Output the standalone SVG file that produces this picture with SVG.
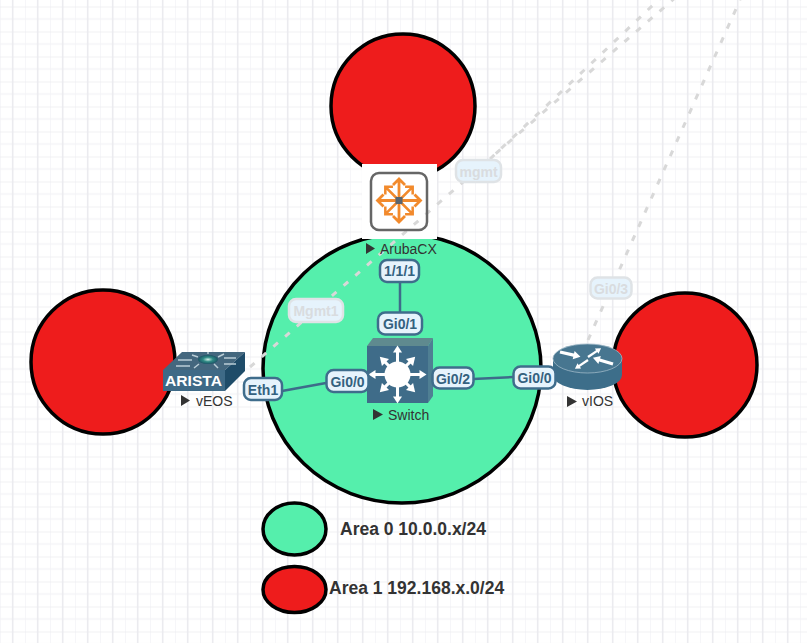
<svg xmlns="http://www.w3.org/2000/svg" width="807" height="643" viewBox="0 0 807 643">
<style>
text{font-family:"Liberation Sans",Arial,sans-serif}
.area{stroke:#000;stroke-width:3.5}
.g{fill:#55efac}.r{fill:#ee1c1c}
.lg{font-size:17.5px;font-weight:bold;fill:#333}
.nm{font-size:14px;fill:#333}
.tri{fill:#333}
.link{stroke:#3e6b8a;stroke-width:2.5;fill:none}
.mg{stroke:#d8d8d8;stroke-width:3;stroke-dasharray:6 9.5;fill:none}
.lb rect{fill:#e6f3fc;stroke:#3f6d8c;stroke-width:2.5}
.lb text{font-size:14px;font-weight:bold;fill:#34617f;text-anchor:middle}
.fd rect{fill:#e6f3fc;stroke:#dfe3e6;stroke-width:2.5}
.fd text{font-size:14px;font-weight:bold;fill:#d9dcdf;text-anchor:middle}
.oa{stroke:#f28a2c;stroke-width:2.8;fill:none}
.wa{stroke:#fff;stroke-width:3;fill:none}
</style>
<defs>
<pattern id="grid" width="25" height="25" patternUnits="userSpaceOnUse" x="0" y="6.5">
<path d="M0 0V25M0 12.5H25" stroke="#f3f3f6" stroke-width="1.4" fill="none"/>
<path d="M12.7 0V25M0 0H25" stroke="#ebebef" stroke-width="1.6" fill="none"/>
</pattern>
<g id="oarrow"><path class="oa" d="M0 0H21M15.5 -6L21.5 0L15.5 6"/></g>
<g id="warrow"><path class="wa" d="M0 0H24"/><path fill="#fff" d="M22 -4.5L29 0L22 4.5Z"/></g>
<g id="warrow2"><path class="wa" d="M0 0H20"/><path fill="#fff" d="M17 -5L25 0L17 5Z"/></g>
<path id="ra" fill="#fff" d="M0 -1.6H14V-4.2L21 0L14 4.2V1.6H0Z"/>
<radialGradient id="glow"><stop offset="0" stop-color="#cfeee6"/><stop offset="0.5" stop-color="#2f8a84"/><stop offset="1" stop-color="#1c5566"/></radialGradient>
</defs>
<rect width="807" height="643" fill="#fff"/>
<rect width="807" height="643" fill="url(#grid)"/>
<g id="areas">
<circle class="area r" cx="403" cy="106" r="72"/>
<circle class="area r" cx="103" cy="362" r="72"/>
<circle class="area r" cx="685" cy="365" r="72"/>
<ellipse class="area g" cx="402" cy="368.5" rx="139" ry="134.5"/>
<rect x="362" y="164" width="75" height="75" fill="#fff"/>
</g>
<g id="connectors">
<path class="mg" d="M250 367L676 -3"/>
<path class="mg" d="M490 159L669 -10"/>
<path class="mg" d="M588 340L740 0"/>
<path class="link" d="M400 281V312"/>
<path class="link" d="M282 391L326 383"/>
<path class="link" d="M473 379L513 377"/>
</g>
<g id="node-aruba">
<rect x="371" y="173" width="56" height="57" rx="8" fill="none" stroke="#666" stroke-width="2.5"/>
<g transform="translate(399 200.5)">
<use href="#oarrow"/>
<use href="#oarrow" transform="rotate(90)"/>
<use href="#oarrow" transform="rotate(180)"/>
<use href="#oarrow" transform="rotate(270)"/>
<g transform="rotate(45) scale(.9)"><use href="#oarrow"/></g>
<g transform="rotate(135) scale(.9)"><use href="#oarrow"/></g>
<g transform="rotate(225) scale(.9)"><use href="#oarrow"/></g>
<g transform="rotate(315) scale(.9)"><use href="#oarrow"/></g>
<rect x="-3.5" y="-3.5" width="7" height="7" fill="#5b6670"/>
</g>
<path class="tri" d="M366 243L375 248.500L366 254Z"/>
<text class="nm" x="380" y="254">ArubaCX</text>
</g>
<g id="node-veos">
<path d="M163 370L182 352H245L225 370Z" fill="#44677e"/>
<path d="M225 370L245 352V371L225 391Z" fill="#1f4c69"/>
<rect x="163" y="370" width="62" height="21" fill="#3e6a87"/>
<path d="M178 360H192M224 358H236M176 366H190M224 364H236M192 355L198 357M224 354L218 357M194 368L199 364M218 368L214 364M208 352V354" stroke="#b9cdd6" stroke-width="1.5" fill="none"/>
<ellipse cx="208" cy="359.500" rx="10" ry="4.500" fill="url(#glow)"/>
<text x="193.500" y="386" font-size="14" font-weight="bold" fill="#fff" text-anchor="middle" textLength="57" lengthAdjust="spacingAndGlyphs">ARISTA</text>
<path class="tri" d="M181 395L190 400.500L181 406Z"/>
<text class="nm" x="196" y="406">vEOS</text>
</g>
<g id="node-switch">
<path d="M367 346L373 338H433L428 346Z" fill="#5f8a8f"/>
<path d="M428 346L433 338V396L428 403Z" fill="#4f7f93"/>
<rect x="367" y="346" width="61" height="57" fill="#3f6c89"/>
<g transform="translate(397.500 374.500)">
<use href="#warrow"/>
<use href="#warrow" transform="rotate(90)"/>
<use href="#warrow" transform="rotate(180)"/>
<use href="#warrow" transform="rotate(270)"/>
<use href="#warrow2" transform="rotate(45)"/>
<use href="#warrow2" transform="rotate(135)"/>
<use href="#warrow2" transform="rotate(225)"/>
<use href="#warrow2" transform="rotate(315)"/>
<circle r="13" fill="#fff"/>
</g>
<path class="tri" d="M373 409L383 414.500L373 420Z"/>
<text class="nm" x="388" y="420">Switch</text>
</g>
<g id="node-vios">
<path d="M553 358.500V375A34.500 15 0 0 0 622 375V358.500Z" fill="#3d6e8a"/>
<ellipse cx="587.500" cy="358.500" rx="34.500" ry="14.500" fill="#477690" stroke="#9db8c6" stroke-width=".8"/>
<use href="#ra" transform="translate(560 352) rotate(13)"/>
<use href="#ra" transform="translate(613 364) rotate(197)"/>
<use href="#ra" transform="translate(588 360) rotate(146) scale(.75)"/>
<use href="#ra" transform="translate(588 357) rotate(-34) scale(.75)"/>
<path class="tri" d="M567 396L577 401.500L567 407Z"/>
<text class="nm" x="582" y="406">vIOS</text>
</g>
<g id="labels">
<g class="lb"><rect x="380" y="260" width="39" height="22" rx="7"/><text x="399.500" y="276">1/1/1</text></g>
<g class="lb"><rect x="378" y="312.500" width="44" height="22" rx="7"/><text x="400" y="328.500">Gi0/1</text></g>
<g class="lb"><rect x="432.500" y="367.500" width="41" height="21" rx="7"/><text x="453" y="383.500">Gi0/2</text></g>
<g class="lb"><rect x="513.500" y="366.500" width="42" height="22" rx="7"/><text x="534.500" y="383">Gi0/0</text></g>
<g class="lb"><rect x="244" y="378" width="38" height="22" rx="7"/><text x="263" y="394.500">Eth1</text></g>
<g class="lb"><rect x="326.500" y="370" width="42" height="22" rx="7"/><text x="347.500" y="386.500">Gi0/0</text></g>
<g class="fd"><rect x="289" y="299" width="54" height="23" rx="7"/><text x="316" y="316">Mgmt1</text></g>
<g class="fd"><rect x="456" y="160" width="45" height="22" rx="7"/><text x="478.500" y="176.500">mgmt</text></g>
<g class="fd"><rect x="590.500" y="277.500" width="41" height="21" rx="7"/><text x="611" y="293.500">Gi0/3</text></g>
</g>
<g id="legend">
<ellipse class="area g" cx="294.500" cy="529" rx="31.500" ry="26"/>
<ellipse class="area r" cx="294.500" cy="589.500" rx="31.500" ry="23"/>
<text class="lg" x="340" y="534.500">Area 0 10.0.0.x/24</text>
<text class="lg" x="329" y="594">Area 1 192.168.x.0/24</text>
</g>
</svg>
